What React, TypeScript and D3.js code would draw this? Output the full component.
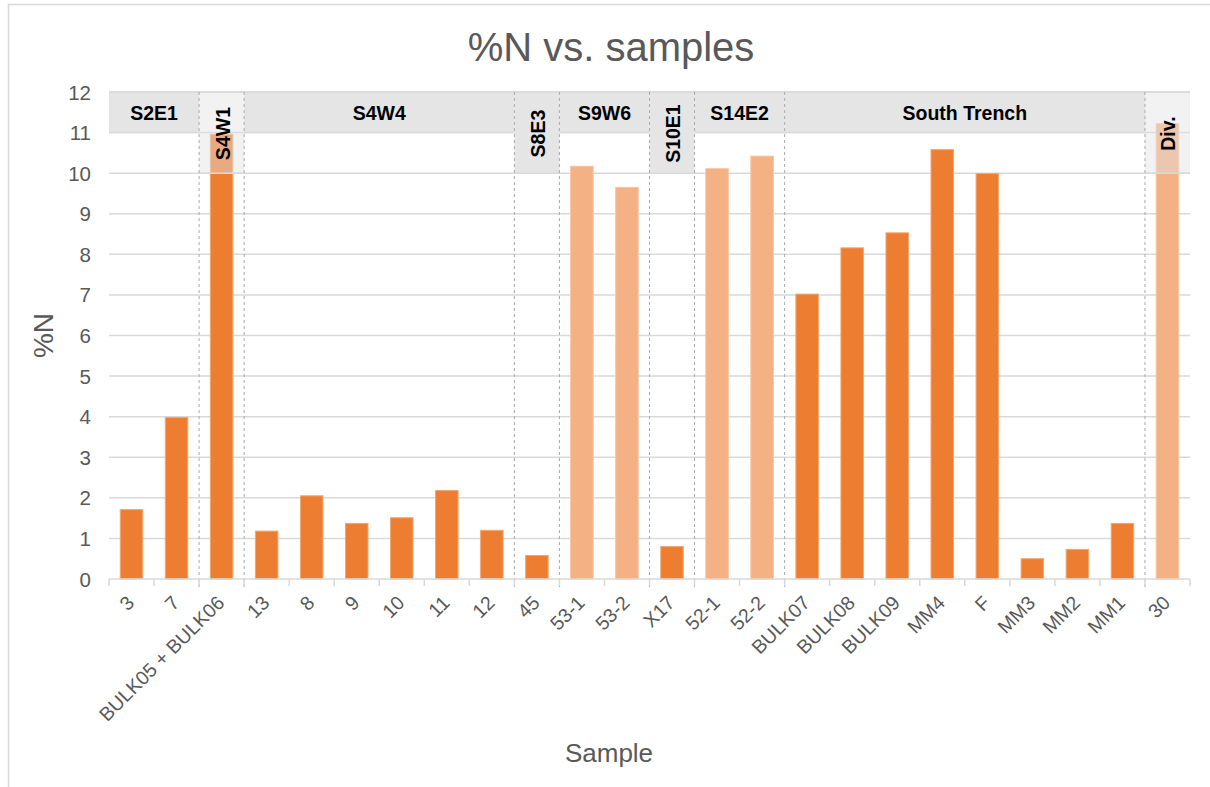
import React from "react";
import * as d3 from "d3";

const samples = ["3", "7", "BULK05 + BULK06", "13", "8", "9", "10", "11", "12", "45", "53-1", "53-2", "X17", "52-1", "52-2", "BULK07", "BULK08", "BULK09", "MM4", "F", "MM3", "MM2", "MM1", "30"];
const nitrogen = [1.71, 3.98, 10.96, 1.18, 2.05, 1.37, 1.51, 2.18, 1.2, 0.58, 10.17, 9.65, 0.8, 10.11, 10.42, 7.02, 8.16, 8.53, 10.58, 9.99, 0.5, 0.73, 1.37, 11.22];
const lightSamples = ["53-1", "53-2", "52-1", "52-2", "30"];
const groupNames = ["S2E1", "S4W1", "S4W4", "S8E3", "S9W6", "S10E1", "S14E2", "South Trench", "Div."];
const groupSizes = [2, 1, 6, 1, 2, 1, 2, 8, 1];
const yTicks = [0, 1, 2, 3, 4, 5, 6, 7, 8, 9, 10, 11, 12];

const FONT = "'Liberation Sans', Arial, Helvetica, sans-serif";
const TXT = "#595959";
const GRID = "#d9d9d9";
const DARK = "#ED7D31";
const LIGHT = "#F4B183";

export default function App() {
  const left = 109, right = 1190, top = 92, bottom = 579;
  const x = d3.scaleBand<string>().domain(samples).range([left, right]).paddingInner(0.5).paddingOuter(0.25);
  const y = d3.scaleLinear().domain([0, 12]).range([bottom, top]);
  const step = x.step();
  const bw = x.bandwidth();

  let acc = 0;
  const groups = groupNames.map((name, i) => {
    const start = acc;
    acc += groupSizes[i];
    const vals = nitrogen.slice(start, acc);
    const vertical = groupSizes[i] === 1;
    return { name, start, end: acc, vertical, overBar: vertical && d3.max(vals)! > 10 };
  });
  const bx = (i: number) => left + step * i;

  return (
    <svg width={1210} height={787} style={{ position: "absolute", left: 0, top: 0, background: "#fff" }} fontFamily={FONT}>
      <rect x={8.5} y={4.5} width={1260} height={850} fill="#fff" stroke={GRID} strokeWidth={1.5} />
      <text x={611} y={61} textAnchor="middle" fontSize={40} fill={TXT}>%N vs. samples</text>

      {yTicks.filter((t) => t > 0).map((t) => (
        <line key={t} x1={left} x2={right} y1={y(t)} y2={y(t)} stroke={GRID} strokeWidth={1.5} />
      ))}

      {samples.map((s, i) => (
        <rect key={s} x={x(s)!} y={y(nitrogen[i])} width={bw} height={y(0) - y(nitrogen[i])}
          fill={lightSamples.includes(s) ? LIGHT : DARK}
          stroke={lightSamples.includes(s) ? "#f7c4a0" : "#f3a772"} strokeWidth={1} />
      ))}

      {groups.map((g) => {
        const x0 = bx(g.start), x1 = bx(g.end);
        const yb = g.vertical ? y(10) : y(11);
        return (
          <g key={g.name}>
            <rect x={x0} y={top} width={x1 - x0} height={yb - top}
              fill={g.overBar ? "rgba(226,226,226,0.45)" : "#e5e5e5"} />
            <line x1={x0} x2={x1} y1={top} y2={top} stroke={GRID} strokeWidth={1.5} />
            <line x1={x0} x2={x1} y1={yb} y2={yb} stroke={GRID} strokeWidth={1.5} />
          </g>
        );
      })}

      {groups.slice(1).map((g) => (
        <line key={g.name} x1={bx(g.start)} x2={bx(g.start)} y1={top} y2={bottom + 8}
          stroke="#aaaaaa" strokeWidth={1} strokeDasharray="3,3" />
      ))}

      {groups.map((g) => {
        const cx = (bx(g.start) + bx(g.end)) / 2;
        if (g.vertical) {
          const cy = (top + y(10)) / 2 + 1;
          return (
            <text key={g.name} transform={`translate(${cx + 1},${cy}) rotate(-90)`} textAnchor="middle"
              dominantBaseline="central" fontSize={19.5} fontWeight="bold" fill="#000">{g.name}</text>
          );
        }
        return (
          <text key={g.name} x={cx} y={(top + y(11)) / 2 + 1} textAnchor="middle" dominantBaseline="central"
            fontSize={19.5} fontWeight="bold" fill="#000">{g.name}</text>
        );
      })}

      <line x1={left} x2={right} y1={bottom} y2={bottom} stroke={GRID} strokeWidth={1.5} />
      {d3.range(samples.length + 1).map((i) => (
        <line key={i} x1={bx(i)} x2={bx(i)} y1={bottom} y2={bottom + 7} stroke={GRID} strokeWidth={1.5} />
      ))}
      {samples.map((s) => {
        const cx = x(s)! + bw / 2;
        return (
          <text key={s} transform={`translate(${cx + 4},${bottom + 25}) rotate(-45)`} textAnchor="end"
            fontSize={19.5} fill={TXT}>{s}</text>
        );
      })}

      {yTicks.map((t) => (
        <text key={t} x={91} y={y(t)} textAnchor="end" dominantBaseline="central" fontSize={20.5} fill={TXT}>{t}</text>
      ))}

      <text transform={`translate(53,${(top + bottom) / 2}) rotate(-90)`} textAnchor="middle" fontSize={28} fill={TXT}>%N</text>
      <text x={609} y={762} textAnchor="middle" fontSize={26} fill={TXT}>Sample</text>
    </svg>
  );
}
